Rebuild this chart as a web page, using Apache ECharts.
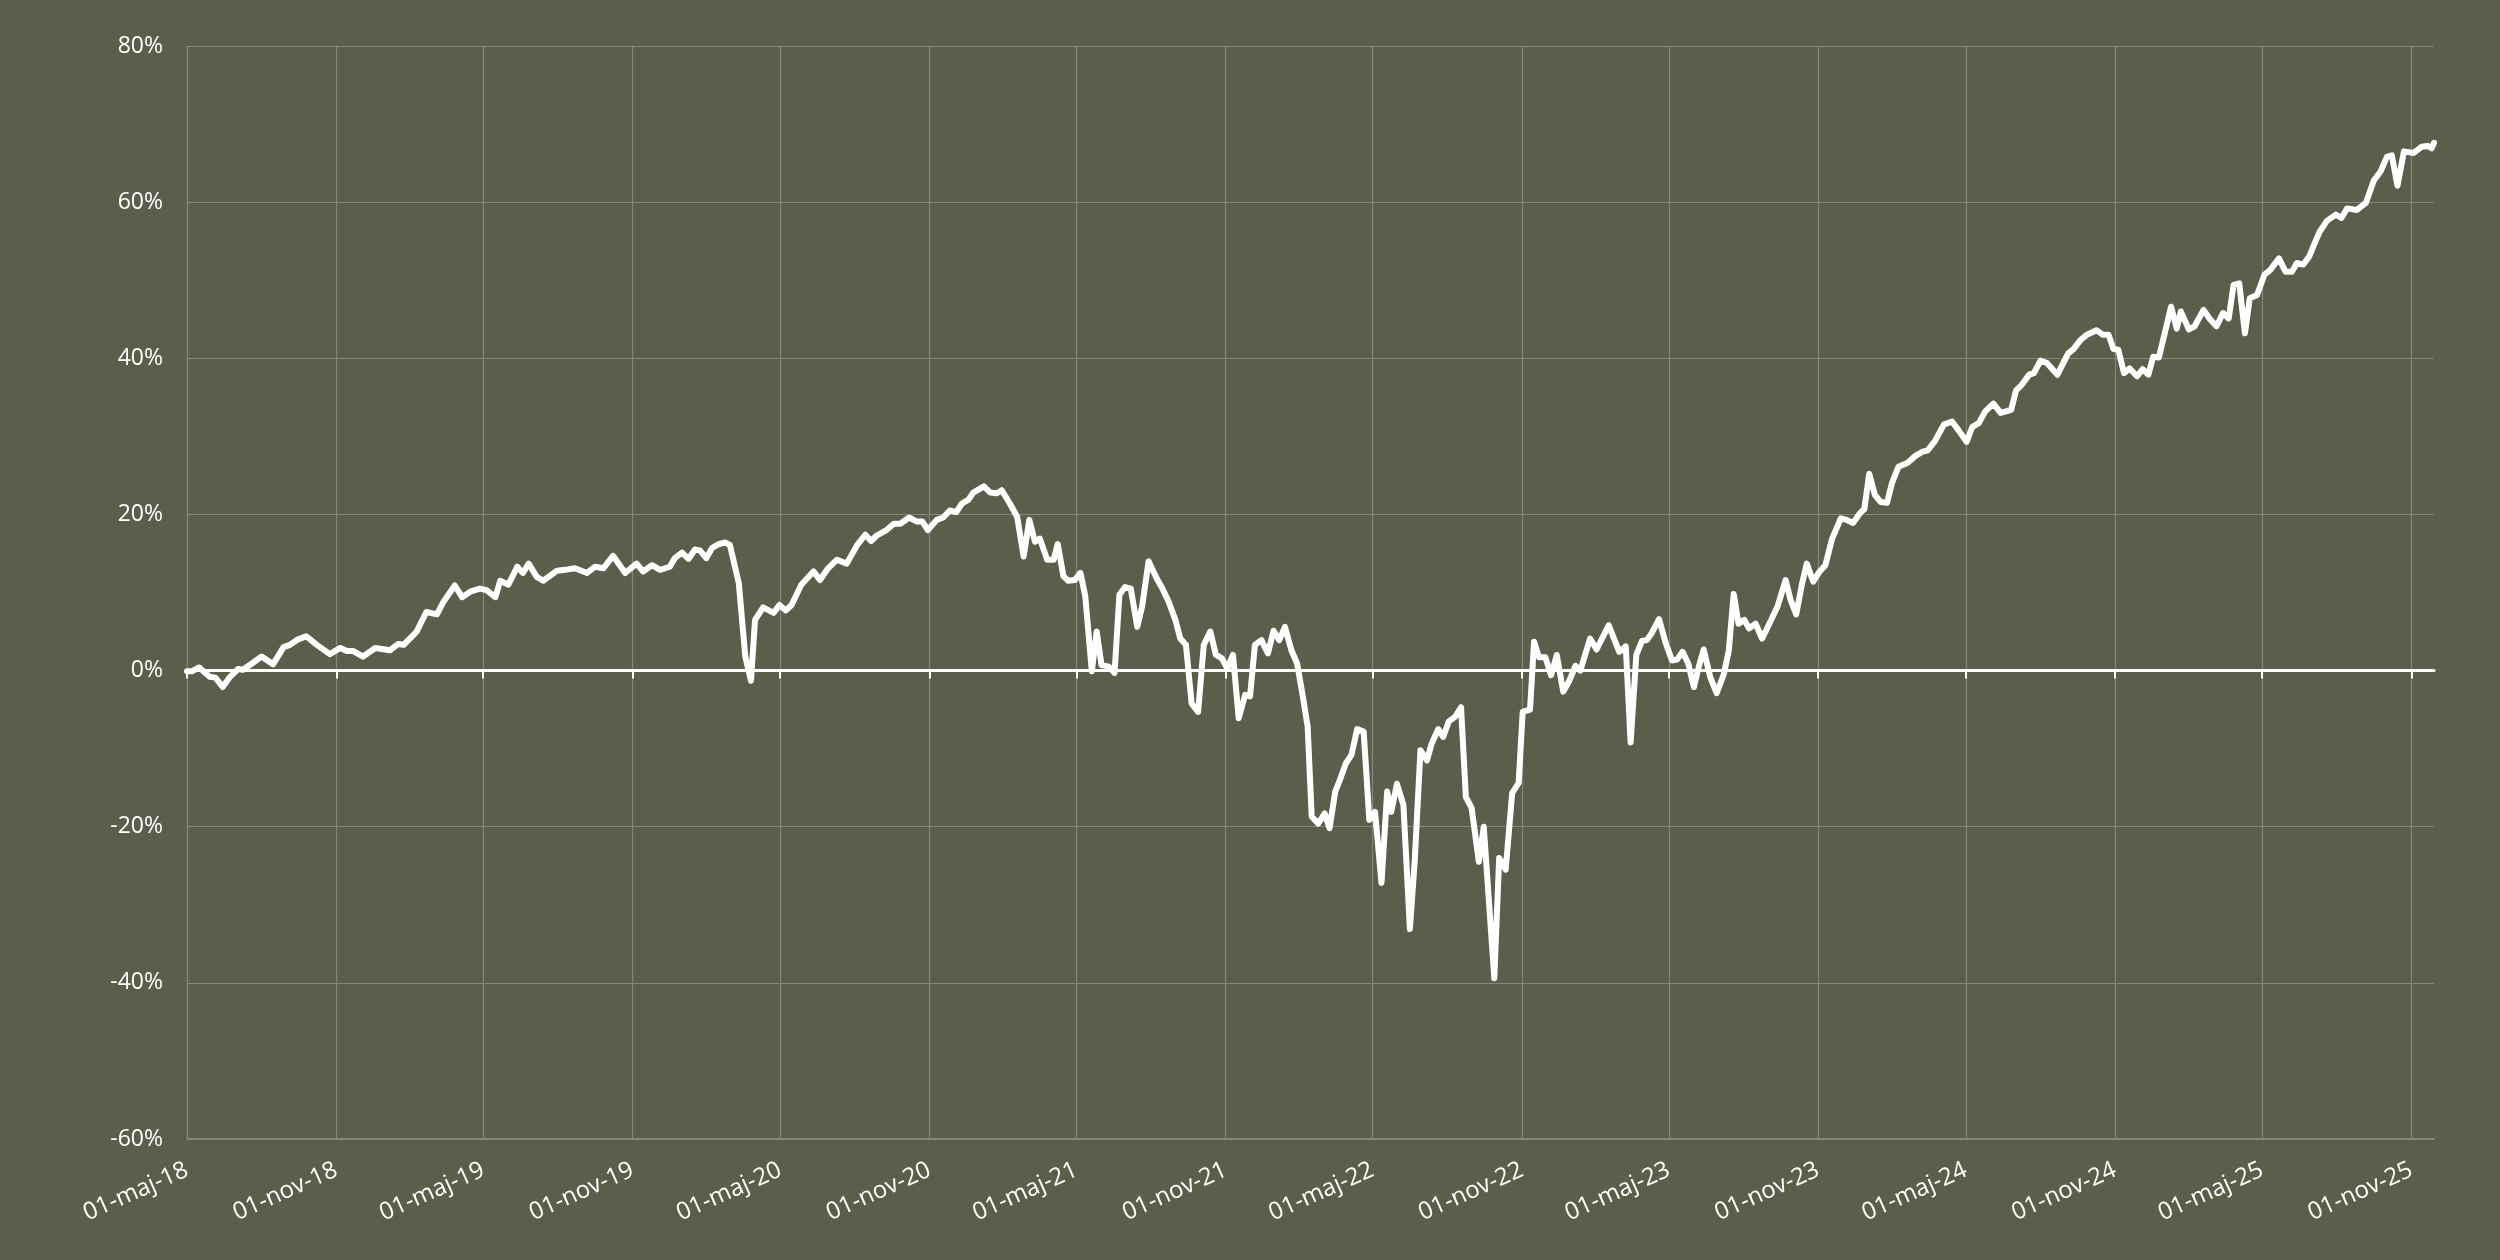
<!DOCTYPE html>
<html>
<head>
<meta charset="utf-8">
<script src="https://cdn.jsdelivr.net/npm/echarts@6/dist/echarts.min.js"></script>
<style>
html,body{margin:0;padding:0;background:#5c5e4b;}
#chart{width:2500px;height:1260px;}
</style>
</head>
<body>
<div id="chart"></div>
<script>
const dates = [
'2018-05-01','2018-05-07','2018-05-16','2018-05-29','2018-06-05','2018-06-14','2018-06-23','2018-07-03','2018-07-09','2018-07-20',
'2018-08-01','2018-08-15','2018-08-28','2018-09-05','2018-09-15','2018-09-25','2018-10-08','2018-10-24','2018-11-06','2018-11-14',
'2018-11-22','2018-12-04','2018-12-19','2019-01-06','2019-01-16','2019-01-23','2019-02-08','2019-02-20','2019-03-05','2019-03-13',
'2019-03-27','2019-04-05','2019-04-15','2019-04-27','2019-05-05','2019-05-16','2019-05-22','2019-06-01','2019-06-12','2019-06-19',
'2019-06-26','2019-07-06','2019-07-14','2019-07-31','2019-08-10','2019-08-22','2019-09-06','2019-09-16','2019-09-26','2019-10-08',
'2019-10-23','2019-11-06','2019-11-14','2019-11-25','2019-12-05','2019-12-17','2019-12-23','2020-01-01','2020-01-09','2020-01-17',
'2020-01-23','2020-01-31','2020-02-07','2020-02-15','2020-02-23','2020-02-29','2020-03-11','2020-03-19','2020-03-26','2020-03-31',
'2020-04-10','2020-04-23','2020-04-30','2020-05-08','2020-05-15','2020-05-27','2020-06-11','2020-06-19','2020-06-29','2020-07-10',
'2020-07-22','2020-08-04','2020-08-14','2020-08-21','2020-08-28','2020-09-09','2020-09-18','2020-09-26','2020-10-07','2020-10-16',
'2020-10-23','2020-10-30','2020-11-10','2020-11-18','2020-11-26','2020-12-04','2020-12-11','2020-12-19','2020-12-25','2021-01-07',
'2021-01-15','2021-01-23','2021-01-29','2021-02-08','2021-02-17','2021-02-25','2021-03-04','2021-03-11','2021-03-17','2021-03-26',
'2021-04-03','2021-04-08','2021-04-15','2021-04-21','2021-04-29','2021-05-06','2021-05-12','2021-05-20','2021-05-26','2021-06-01',
'2021-06-10','2021-06-17','2021-06-23','2021-06-30','2021-07-07','2021-07-15','2021-07-21','2021-07-29','2021-08-08','2021-08-14',
'2021-08-22','2021-08-31','2021-09-06','2021-09-13','2021-09-20','2021-09-28','2021-10-05','2021-10-13','2021-10-20','2021-10-27',
'2021-11-03','2021-11-10','2021-11-17','2021-11-25','2021-12-01','2021-12-07','2021-12-15','2021-12-23','2021-12-30','2022-01-06',
'2022-01-13','2022-01-21','2022-01-28','2022-02-04','2022-02-10','2022-02-15','2022-02-23','2022-03-03','2022-03-09','2022-03-16',
'2022-03-21','2022-03-29','2022-04-05','2022-04-12','2022-04-20','2022-04-27','2022-05-04','2022-05-12','2022-05-19','2022-05-24',
'2022-05-31','2022-06-08','2022-06-16','2022-06-22','2022-06-29','2022-07-07','2022-07-13','2022-07-21','2022-07-27','2022-08-03',
'2022-08-11','2022-08-18','2022-08-24','2022-08-31','2022-09-09','2022-09-15','2022-09-28','2022-10-04','2022-10-12','2022-10-20',
'2022-10-28','2022-11-02','2022-11-11','2022-11-16','2022-11-22','2022-11-30','2022-12-07','2022-12-14','2022-12-22','2022-12-29',
'2023-01-06','2023-01-12','2023-01-24','2023-02-01','2023-02-16','2023-03-01','2023-03-09','2023-03-15','2023-03-22','2023-03-29',
'2023-04-04','2023-04-10','2023-04-19','2023-04-27','2023-05-05','2023-05-11','2023-05-18','2023-05-25','2023-06-01','2023-06-07',
'2023-06-13','2023-06-21','2023-06-29','2023-07-08','2023-07-14','2023-07-20','2023-07-26','2023-08-02','2023-08-08','2023-08-16',
'2023-08-24','2023-09-01','2023-09-12','2023-09-22','2023-09-28','2023-10-05','2023-10-12','2023-10-18','2023-10-26','2023-11-03',
'2023-11-10','2023-11-18','2023-11-29','2023-12-06','2023-12-14','2023-12-23','2023-12-28','2024-01-03','2024-01-10','2024-01-17',
'2024-01-25','2024-01-31','2024-02-08','2024-02-19','2024-02-29','2024-03-08','2024-03-15','2024-03-24','2024-04-04','2024-04-14',
'2024-04-22','2024-05-02','2024-05-09','2024-05-17','2024-05-25','2024-06-04','2024-06-13','2024-06-26','2024-07-02','2024-07-09',
'2024-07-18','2024-07-24','2024-08-01','2024-08-09','2024-08-22','2024-09-04','2024-09-11','2024-09-19','2024-09-27','2024-10-09',
'2024-10-17','2024-10-24','2024-10-30','2024-11-05','2024-11-12','2024-11-19','2024-11-28','2024-12-05','2024-12-12','2024-12-18',
'2024-12-25','2025-01-09','2025-01-16','2025-01-21','2025-01-31','2025-02-07','2025-02-18','2025-02-26','2025-03-06','2025-03-14',
'2025-03-21','2025-03-27','2025-04-03','2025-04-10','2025-04-16','2025-04-25','2025-05-04','2025-05-11','2025-05-22','2025-05-30',
'2025-06-07','2025-06-13','2025-06-21','2025-06-28','2025-07-04','2025-07-11','2025-07-20','2025-07-31','2025-08-07','2025-08-14',
'2025-08-26','2025-09-06','2025-09-16','2025-09-24','2025-10-02','2025-10-08','2025-10-15','2025-10-23','2025-11-04','2025-11-14',
'2025-11-21','2025-11-26','2025-11-29'
];
const values = [
-0.1,-0.1,0.4,-0.8,-0.9,-2.1,-0.8,0.2,0.1,0.9,
1.8,0.8,3.0,3.3,4.0,4.4,3.3,2.1,2.9,2.5,
2.5,1.8,2.9,2.6,3.4,3.3,5.0,7.5,7.2,8.8,
10.9,9.4,10.1,10.5,10.3,9.4,11.5,11.0,13.3,12.5,
13.7,12.0,11.5,12.8,12.9,13.1,12.5,13.3,13.1,14.7,
12.5,13.7,12.7,13.5,12.9,13.3,14.4,15.1,14.3,15.5,
15.4,14.4,15.7,16.2,16.4,16.1,11.2,1.8,-1.3,6.5,
8.1,7.4,8.4,7.7,8.4,11.0,12.7,11.6,13.1,14.2,
13.7,16.1,17.4,16.6,17.3,18.0,18.8,18.8,19.6,19.1,
19.1,18.0,19.3,19.6,20.5,20.3,21.4,21.9,22.8,23.6,
22.8,22.7,23.1,21.4,19.7,14.6,19.3,16.5,16.9,14.2,
14.2,16.2,12.1,11.5,11.6,12.5,9.5,-0.1,5.0,0.7,
0.5,-0.3,9.7,10.7,10.5,5.6,8.2,14.0,11.8,10.7,
9.0,6.5,4.1,3.3,-4.2,-5.3,3.3,5.0,2.0,1.6,
0.3,2.0,-6.1,-3.1,-3.3,3.3,3.9,2.2,5.1,3.9,
5.6,2.6,0.9,-3.3,-7.2,-18.7,-19.6,-18.3,-20.2,-15.5,
-14.2,-11.9,-10.8,-7.5,-7.8,-19.1,-18.1,-27.2,-15.5,-18.1,
-14.5,-17.2,-33.1,-24.3,-10.2,-11.5,-9.3,-7.5,-8.5,-6.5,
-5.9,-4.7,-16.2,-17.6,-24.5,-20.0,-39.4,-24.0,-25.5,-15.7,
-14.4,-5.3,-5.0,3.7,1.7,1.7,-0.6,2.0,-2.7,-1.4,
0.6,0.0,4.1,2.7,5.8,2.4,3.1,-9.2,2.0,3.8,
3.9,4.8,6.6,3.6,1.3,1.4,2.4,0.9,-2.1,0.5,
2.7,-0.8,-2.9,-0.4,2.6,9.8,6.0,6.5,5.4,6.0,
4.1,5.8,8.2,11.6,9.1,7.2,11.0,13.7,11.4,12.7,
13.5,16.8,19.5,19.3,18.9,20.2,20.7,25.2,22.5,21.6,
21.5,24.0,26.1,26.6,27.5,28.0,28.2,29.4,31.5,31.9,
30.8,29.3,31.2,31.7,33.2,34.2,33.0,33.4,35.9,36.6,
37.9,38.1,39.7,39.4,37.9,40.6,41.2,42.3,43.0,43.6,
43.0,43.0,41.2,41.1,38.1,38.7,37.7,38.6,37.9,40.2,
40.1,46.6,43.8,46.0,43.7,44.1,46.2,45.0,44.1,45.8,
45.1,49.4,49.6,43.2,47.7,48.1,50.7,51.3,52.8,51.1,
51.1,52.2,52.0,53.0,54.5,56.2,57.6,58.4,58.0,59.2,
59.0,59.9,62.8,63.9,65.8,66.0,62.1,66.5,66.3,67.1,
67.2,66.9,67.6
];
const tickDates = ['2018-05-01','2018-11-01','2019-05-01','2019-11-01','2020-05-01','2020-11-01','2021-05-01','2021-11-01','2022-05-01','2022-11-01','2023-05-01','2023-11-01','2024-05-01','2024-11-01','2025-05-01','2025-11-01'];
const tickLabels = ['01-maj-18','01-nov-18','01-maj-19','01-nov-19','01-maj-20','01-nov-20','01-maj-21','01-nov-21','01-maj-22','01-nov-22','01-maj-23','01-nov-23','01-maj-24','01-nov-24','01-maj-25','01-nov-25'];
const yMin = -60, yMax = 80, yStep = 20;

const parse = d => echarts.number.parseDate(d).getTime();
const tickTimes = tickDates.map(parse);
const seriesData = dates.map((d, i) => [parse(d), values[i]]);
const xMin = parse(dates[0]);
const xMax = parse(dates[dates.length - 1]);
const FONT = '"Open Sans", "Noto Sans", sans-serif';
const GRID = '#85867f';

const chart = echarts.init(document.getElementById('chart'), null, {renderer: 'canvas'});
chart.setOption({
  backgroundColor: '#5c5e4b',
  animation: false,
  grid: {left: 187, right: 66, top: 46, bottom: 121, containLabel: false},
  xAxis: [
    {
      type: 'value', min: xMin, max: xMax, scale: true,
      axisLine: {show: true, onZero: false, lineStyle: {color: GRID, width: 2}},
      axisTick: {show: false, customValues: tickTimes},
      splitLine: {show: true, lineStyle: {color: GRID, width: 1.2}},
      axisLabel: {
        show: true, customValues: tickTimes, rotate: 24, margin: 30,
        color: '#ffffff', fontFamily: FONT, fontSize: 24,
        formatter: v => { const i = tickTimes.indexOf(v); return i >= 0 ? tickLabels[i] : ''; }
      }
    },
    {
      type: 'value', min: xMin, max: xMax, scale: true, position: 'bottom',
      axisLine: {show: true, onZero: true, lineStyle: {color: '#ffffff', width: 3}},
      axisTick: {show: true, inside: false, length: 8, customValues: tickTimes, lineStyle: {color: '#ffffff', width: 2}},
      splitLine: {show: false},
      axisLabel: {show: false}
    }
  ],
  yAxis: {
    type: 'value', min: yMin, max: yMax, interval: yStep,
    axisLine: {show: false}, axisTick: {show: false},
    splitLine: {show: true, lineStyle: {color: GRID, width: 1.2}},
    axisLabel: {color: '#ffffff', fontFamily: FONT, fontSize: 23, margin: 24, formatter: '{value}%'}
  },
  series: [{
    type: 'line', xAxisIndex: 0, data: seriesData,
    showSymbol: false, symbol: 'none', smooth: false,
    lineStyle: {color: '#ffffff', width: 6, join: 'round', cap: 'round'},
    z: 5
  }]
});
</script>
</body>
</html>
